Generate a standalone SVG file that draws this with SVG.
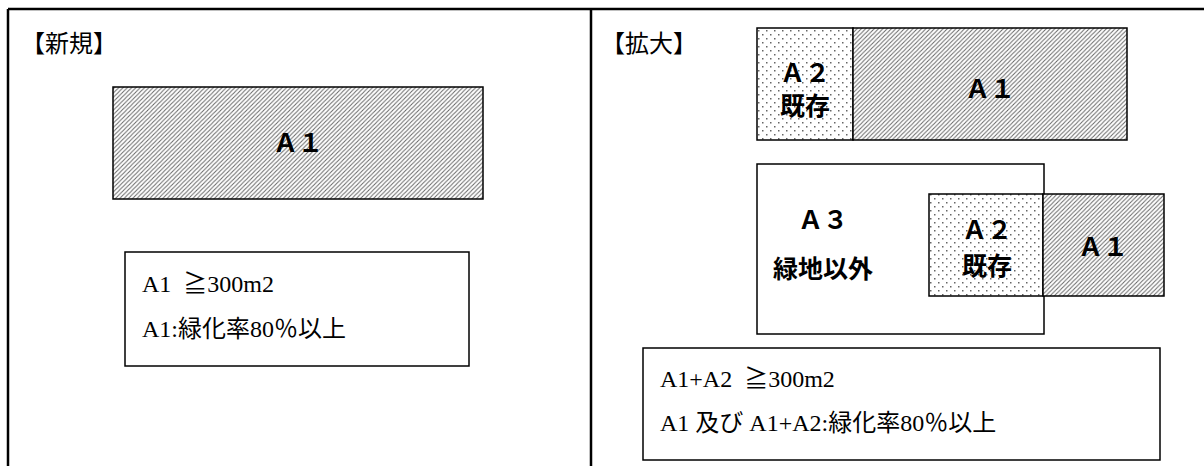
<svg xmlns="http://www.w3.org/2000/svg" width="1204" height="466" viewBox="0 0 1204 466">
<style>
.frame{stroke:#000;stroke-width:2.5;fill:none}
.box{stroke:#000;stroke-width:1.5;fill:#fff}
.hatch{fill:url(#hatch);stroke:#000;stroke-width:1.5}
.dots{fill:url(#dots);stroke:#000;stroke-width:1.5}
.head{font-family:"Liberation Serif","Noto Sans CJK JP",serif;font-size:24px;fill:#000}
.lbl{font-family:"Liberation Sans","Noto Sans CJK JP",sans-serif;font-size:25px;font-weight:bold;fill:#000;text-anchor:middle}
.note{font-family:"Liberation Serif","Noto Sans CJK JP",serif;font-size:24px;fill:#000}
</style>
<defs>
<pattern id="hatch" patternUnits="userSpaceOnUse" width="4.3" height="4.3">
<rect width="4.3" height="4.3" fill="#fff"/>
<path d="M-1,1 L1,-1 M0,4.3 L4.3,0 M3.3,5.3 L5.3,3.3" stroke="#666" stroke-width="1"/>
</pattern>
<pattern id="dots" patternUnits="userSpaceOnUse" width="8" height="8">
<rect width="8" height="8" fill="#fff"/>
<rect x="2" y="2" width="1.5" height="1.5" fill="#666"/>
<rect x="6" y="6" width="1.5" height="1.5" fill="#666"/>
</pattern>
</defs>
<g id="frame">
<line class="frame" x1="8" y1="9" x2="1204" y2="9"/>
<line class="frame" x1="8" y1="9" x2="8" y2="466"/>
<line class="frame" x1="591" y1="9" x2="591" y2="466"/>
</g>
<g id="left-title"><text class="head" x="21" y="52">【新規】</text></g>
<g id="left-a1">
<rect class="hatch" x="113" y="87" width="370" height="112"/>
<text class="lbl" x="298" y="152">Ａ１</text>
</g>
<g id="left-note">
<rect class="box" x="125" y="252" width="344" height="114"/>
<text class="note" x="142" y="292" xml:space="preserve">A1  ≧300m2</text>
<text class="note" x="142" y="337">A1:緑化率80％以上</text>
</g>
<g id="right-title"><text class="head" x="601" y="52">【拡大】</text></g>
<g id="top-a2">
<rect class="dots" x="757" y="28" width="96" height="112"/>
<text class="lbl" x="805" y="82">Ａ２</text>
<text class="lbl" x="805" y="115">既存</text>
</g>
<g id="top-a1">
<rect class="hatch" x="853" y="28" width="274" height="112"/>
<text class="lbl" x="990" y="98">Ａ１</text>
</g>
<g id="a3">
<rect class="box" x="757" y="164" width="287" height="170"/>
<text class="lbl" x="823" y="229">Ａ３</text>
<text class="lbl" x="823" y="278">緑地以外</text>
</g>
<g id="mid-a2">
<rect class="dots" x="929" y="194" width="114" height="102"/>
<text class="lbl" x="987" y="239">Ａ２</text>
<text class="lbl" x="987" y="275">既存</text>
</g>
<g id="mid-a1">
<rect class="hatch" x="1043" y="194" width="121" height="102"/>
<text class="lbl" x="1103" y="256">Ａ１</text>
</g>
<g id="right-note">
<rect class="box" x="643" y="348" width="517" height="112"/>
<text class="note" x="660" y="387" xml:space="preserve">A1+A2  ≧300m2</text>
<text class="note" x="660" y="431">A1 及び A1+A2:緑化率80％以上</text>
</g>
<g id="connectors"/>
</svg>
